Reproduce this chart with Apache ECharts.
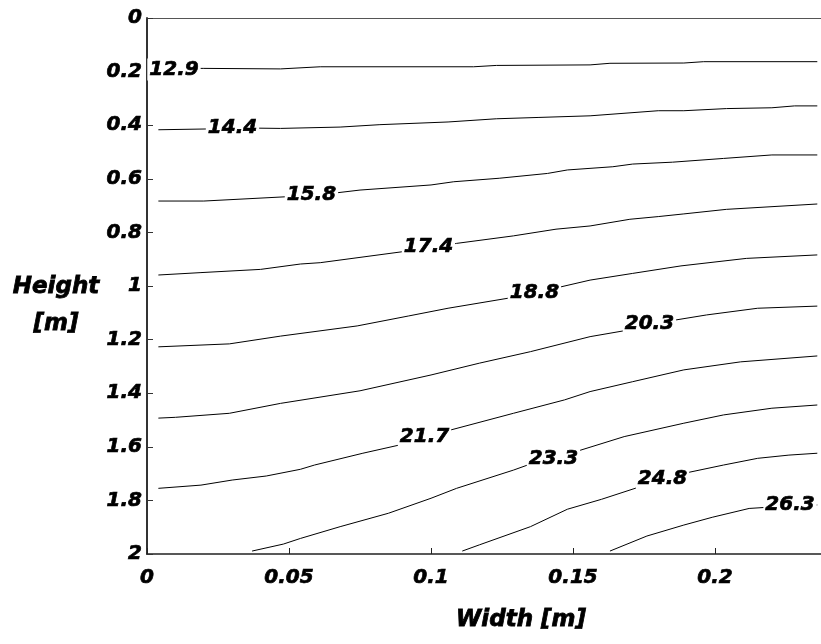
<!DOCTYPE html>
<html>
<head>
    <meta charset="utf-8">
    <title>Contour</title>
    <script src="https://cdn.jsdelivr.net/npm/echarts@6/dist/echarts.min.js"></script>
</head>
<body style="margin:0">
<div id="main" style="width: 821px;height:644px;"></div>
<script type="text/javascript">

    // contour levels and where their labels sit (width [m], height [m])
    var levels = ['12.9', '14.4', '15.8', '17.4', '18.8', '20.3', '21.7', '23.3', '24.8', '26.3'];
    var labelX = [0.0095, 0.0301, 0.0579, 0.0991, 0.1364, 0.1769, 0.0977, 0.1431, 0.1815, 0.2264];
    var labelY = [0.192, 0.410, 0.659, 0.853, 1.025, 1.142, 1.562, 1.643, 1.718, 1.817];

    // one pair of arrays per contour line
    var x129 = [0.004, 0.020, 0.047, 0.061, 0.115, 0.123, 0.156, 0.163, 0.189, 0.196, 0.236];
    var y129 = [0.188, 0.188, 0.190, 0.182, 0.182, 0.177, 0.175, 0.169, 0.168, 0.163, 0.163];
    var x144 = [0.004, 0.039, 0.047, 0.068, 0.082, 0.106, 0.123, 0.138, 0.156, 0.180, 0.189, 0.204, 0.220, 0.228, 0.236];
    var y144 = [0.417, 0.411, 0.412, 0.407, 0.398, 0.388, 0.376, 0.371, 0.365, 0.346, 0.346, 0.338, 0.335, 0.328, 0.328];
    var x158 = [0.004, 0.020, 0.049, 0.067, 0.075, 0.100, 0.108, 0.124, 0.141, 0.148, 0.164, 0.171, 0.185, 0.203, 0.220, 0.236];
    var y158 = [0.683, 0.683, 0.667, 0.652, 0.642, 0.623, 0.611, 0.598, 0.580, 0.567, 0.555, 0.545, 0.538, 0.524, 0.511, 0.511];
    var x174 = [0.004, 0.019, 0.040, 0.054, 0.061, 0.090, 0.109, 0.129, 0.144, 0.156, 0.170, 0.180, 0.189, 0.204, 0.236];
    var y174 = [0.959, 0.950, 0.938, 0.918, 0.913, 0.872, 0.841, 0.813, 0.788, 0.776, 0.751, 0.741, 0.731, 0.714, 0.694];
    var x188 = [0.004, 0.029, 0.047, 0.074, 0.092, 0.106, 0.128, 0.145, 0.156, 0.171, 0.188, 0.211, 0.236];
    var y188 = [1.227, 1.216, 1.187, 1.149, 1.112, 1.083, 1.044, 1.005, 0.978, 0.953, 0.925, 0.897, 0.884];
    var x203 = [0.004, 0.010, 0.029, 0.047, 0.075, 0.100, 0.117, 0.135, 0.156, 0.168, 0.186, 0.197, 0.215, 0.236];
    var y203 = [1.493, 1.490, 1.475, 1.438, 1.391, 1.332, 1.288, 1.245, 1.189, 1.167, 1.127, 1.108, 1.083, 1.075];
    var x217 = [0.004, 0.019, 0.030, 0.042, 0.054, 0.059, 0.076, 0.089, 0.107, 0.129, 0.147, 0.156, 0.171, 0.189, 0.209, 0.236];
    var y217 = [1.755, 1.743, 1.724, 1.709, 1.684, 1.668, 1.624, 1.593, 1.537, 1.475, 1.425, 1.394, 1.357, 1.313, 1.283, 1.261];
    var x233 = [0.037, 0.048, 0.054, 0.068, 0.085, 0.100, 0.109, 0.129, 0.134, 0.151, 0.168, 0.189, 0.203, 0.220, 0.236];
    var y233 = [1.989, 1.963, 1.942, 1.898, 1.848, 1.792, 1.755, 1.687, 1.668, 1.618, 1.562, 1.512, 1.481, 1.456, 1.444];
    var x248 = [0.111, 0.117, 0.135, 0.148, 0.160, 0.173, 0.190, 0.203, 0.215, 0.226, 0.236];
    var y248 = [1.989, 1.966, 1.898, 1.833, 1.796, 1.751, 1.697, 1.668, 1.643, 1.631, 1.624];
    var x263 = [0.163, 0.176, 0.189, 0.199, 0.212, 0.218, 0.236];
    var y263 = [1.989, 1.933, 1.892, 1.863, 1.830, 1.826, 1.817];

    var lineXs = [x129, x144, x158, x174, x188, x203, x217, x233, x248, x263];
    var lineYs = [y129, y144, y158, y174, y188, y203, y217, y233, y248, y263];

    var fontFamily = '"DejaVu Sans", sans-serif';

    // shared look of all the bold italic texts
    var textLook = {
        color: '#000',
        fontFamily: fontFamily,
        fontSize: 20,
        fontWeight: 'bold',
        fontStyle: 'italic',
        textBorderColor: '#000',
        textBorderWidth: 0.7
    };

    function zip(xs, ys) {
        var out = [];
        for (var i = 0; i < xs.length; i++) {
            out.push([xs[i], ys[i]]);
        }
        return out;
    }

    var series = [];
    for (var k = 0; k < levels.length; k++) {
        series.push({
            name: levels[k],
            type: 'line',
            data: zip(lineXs[k], lineYs[k]),
            symbol: 'none',
            silent: true,
            z: 2,
            lineStyle: { color: '#000', width: 1 }
        });
    }

    var labelData = [];
    for (var j = 0; j < levels.length; j++) {
        labelData.push({ name: levels[j], value: [labelX[j], labelY[j]] });
    }
    series.push({
        type: 'scatter',
        data: labelData,
        symbolSize: 0,
        silent: true,
        z: 5,
        itemStyle: { opacity: 1 },
        label: Object.assign({
            show: true,
            position: 'inside',
            formatter: '{b}',
            backgroundColor: '#fff',
            padding: [1, 2]
        }, textLook)
    });

    var myChart = echarts.init(document.getElementById('main'));

    function title(text, x, y) {
        return {
            type: 'text',
            x: x,
            y: y,
            style: {
                text: text,
                font: 'italic bold 23px ' + fontFamily,
                fill: '#000',
                stroke: '#000',
                lineWidth: 0.8,
                align: 'center',
                verticalAlign: 'middle',
                textAlign: 'center',
                textVerticalAlign: 'middle'
            }
        };
    }

    var option = {
        animation: false,
        backgroundColor: '#fff',
        grid: {
            left: 147,
            right: 0,
            top: 18,
            bottom: 90
        },
        xAxis: [{
            type: 'value',
            min: 0,
            max: 0.2373,
            interval: 0.05,
            axisLine: { onZero: false, lineStyle: { color: '#222', width: 1.5 } },
            axisTick: { inside: true, length: 6, lineStyle: { color: '#222' } },
            axisLabel: Object.assign({ margin: 14, showMaxLabel: false }, textLook),
            splitLine: { show: false }
        }, {
            type: 'value',
            position: 'top',
            min: 0,
            max: 0.2373,
            axisLine: { onZero: false, lineStyle: { color: '#555', width: 1 } },
            axisTick: { show: false },
            axisLabel: { show: false },
            splitLine: { show: false }
        }],
        yAxis: {
            type: 'value',
            inverse: true,
            min: 0,
            max: 2,
            interval: 0.2,
            axisLine: { show: true, onZero: false, lineStyle: { color: '#333', width: 2 } },
            axisTick: { show: true, inside: true, length: 6, lineStyle: { color: '#333' } },
            axisLabel: Object.assign({ margin: 5 }, textLook),
            splitLine: { show: false }
        },
        graphic: [
            title('Height', 56, 287),
            title('[m]', 56, 324),
            title('Width [m]', 521, 620)
        ],
        series: series
    };

    myChart.setOption(option);
</script>
</body>
</html>
